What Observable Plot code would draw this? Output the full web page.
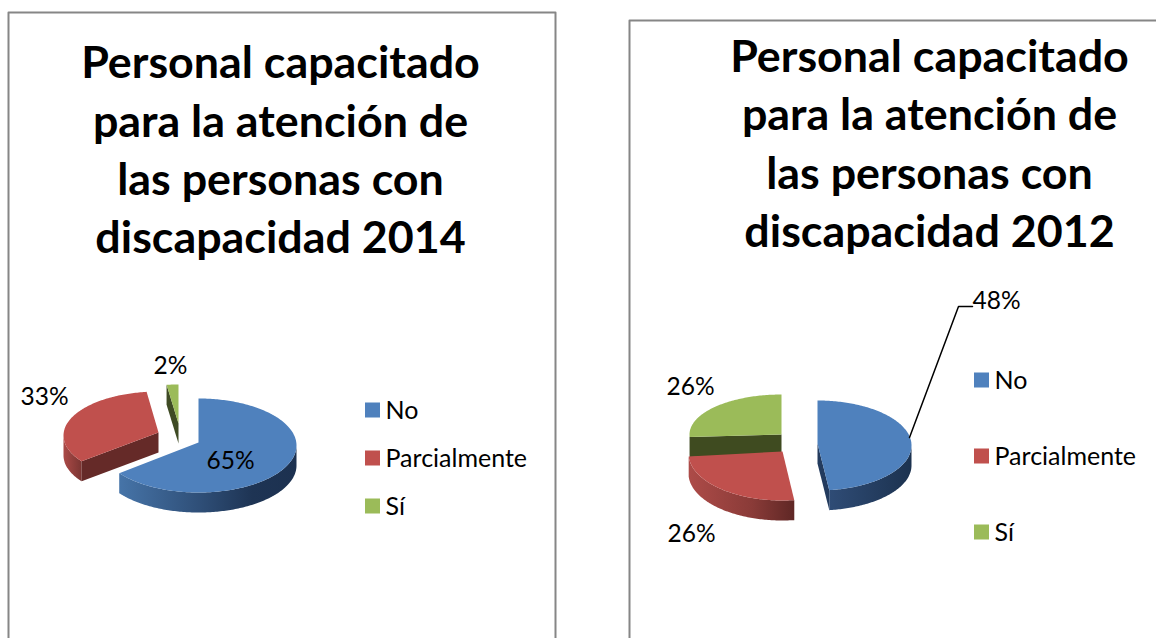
<!DOCTYPE html>
<html>
<head>
<meta charset="utf-8">
<script src="https://cdn.jsdelivr.net/npm/d3@7"></script>
<script src="https://cdn.jsdelivr.net/npm/@observablehq/plot@0.6"></script>
<style>html,body{margin:0;padding:0;background:#fff;overflow:hidden}svg{display:block}</style>
</head>
<body>
<div id="chart"></div>
<script>
const categories = ["No", "Parcialmente", "Sí"];
const values2014 = [65, 33, 2];
const values2012 = [48, 26, 26];
const title2014 = ["Personal capacitado", "para la atención de", "las personas con", "discapacidad 2014"];
const title2012 = ["Personal capacitado", "para la atención de", "las personas con", "discapacidad 2012"];
const colors = ["#4f81bd", "#c0504d", "#9bbb59"];

const FONT = "Lato, 'Open Sans', sans-serif";
const DEPTH = 20;

// Drawing layout, in page units. The angles come from the values arrays.
const layout2014 = {
  slices: [
    {ax: 198, ay: 442, rx: 98, ry: 47, dy: 3, wall: "url(#blueWallA)", face: null},
    {ax: 158, ay: 432, rx: 95, ry: 44, dy: 3, wall: "url(#redWallA)", face: {at: "start", fill: "#652a28"}},
    {ax: 178, ay: 423, rx: 95, ry: 39, dy: 0, wall: "#3f4b24", face: {at: "start", fill: "#3f4b24"}}
  ],
  frame: [[8, 640], [8, 12], [555, 12], [555, 640]],
  titleX: 280, titleY: [63, 122, 180, 238],
  labels: [[230, 461], [44, 397], [170, 366]],
  legendX: 365, legendY: [410, 458, 506]
};
const layout2012 = {
  slices: [
    {ax: 817, ay: 443, rx: 94, ry: 45, dy: 2, wall: "url(#blueWallB)", face: {at: "end", fill: "#233b5e"}},
    {ax: 782, ay: 451, rx: 94, ry: 47, dy: 2, wall: "url(#redWallB)", face: null},
    {ax: 781, ay: 434, rx: 92, ry: 40, dy: 0, wall: "#3f4b24", face: {at: "start", fill: "#3f4b20"}}
  ],
  frame: [[629, 640], [629, 20], [1158, 20]],
  titleX: 929, titleY: [57, 115, 174, 232],
  labels: [[996, 301], [691, 534], [690, 387]],
  legendX: 974, legendY: [380, 456, 532]
};
const leader2012 = [[909, 437], [958, 306], [972, 306]];

const rad = d => d * Math.PI / 180;
function rim(s, deg, drop = 0) {
  return [s.ax + s.rx * Math.sin(rad(deg)), s.ay + s.dy - s.ry * Math.cos(rad(deg)) + drop];
}
function sweep(a, b) {
  const out = d3.range(a, b, 1);
  out.push(b);
  return out;
}
function pieMarks(values, layout) {
  const total = d3.sum(values);
  let angle = 0;
  const under = [], over = [];
  values.forEach((v, i) => {
    const s = layout.slices[i];
    const a0 = angle, a1 = angle + v / total * 360;
    angle = a1;
    // outer wall: the part of the rim that faces the viewer
    const w0 = Math.max(a0, 90), w1 = Math.min(a1, 270);
    if (w1 > w0) {
      const arc = sweep(w0, w1);
      const pts = [...arc.map(d => rim(s, d)), ...arc.slice().reverse().map(d => rim(s, d, DEPTH))];
      under.push(Plot.line(pts, {x: d => d[0], y: d => d[1], fill: s.wall, stroke: "none"}));
    }
    // cut face
    if (s.face) {
      const e = rim(s, s.face.at === "start" ? a0 : a1);
      const pts = [[s.ax, s.ay], e, [e[0], e[1] + DEPTH], [s.ax, s.ay + DEPTH]];
      under.push(Plot.line(pts, {x: d => d[0], y: d => d[1], fill: s.face.fill, stroke: "none"}));
    }
    // top face
    const top = [[s.ax, s.ay], ...sweep(a0, a1).map(d => rim(s, d))];
    over.push(Plot.line(top, {x: d => d[0], y: d => d[1], fill: colors[i], stroke: "none"}));
  });
  const framePts = layout.frame;
  const frame = Plot.line(framePts, {x: d => d[0], y: d => d[1], stroke: "#868686", strokeWidth: 2});
  const titleRows = (layout === layout2014 ? title2014 : title2012).map((t, i) => ({t, y: layout.titleY[i]}));
  const title = Plot.text(titleRows, {
    x: () => layout.titleX, y: "y", text: "t",
    fontFamily: FONT, fontWeight: 700, fontSize: 44.8, fill: "#000"
  });
  const labels = Plot.text(values, {
    x: (d, i) => layout.labels[i][0], y: (d, i) => layout.labels[i][1], text: d => `${d}%`,
    fontFamily: FONT, fontSize: 24.5, fill: "#000"
  });
  const swatches = Plot.rect(categories, {
    x1: () => layout.legendX, x2: () => layout.legendX + 15,
    y1: (d, i) => layout.legendY[i] - 7.5, y2: (d, i) => layout.legendY[i] + 7.5,
    fill: (d, i) => colors[i]
  });
  const legend = Plot.text(categories, {
    x: () => layout.legendX + 20, y: (d, i) => layout.legendY[i], text: d => d, textAnchor: "start",
    fontFamily: FONT, fontSize: 25, fill: "#000"
  });
  return [frame, ...under, ...over, title, labels, swatches, legend];
}

function gradient(id, stops) {
  return `<linearGradient id="${id}" x1="0" x2="1" y1="0" y2="0">` +
    stops.map(([o, c]) => `<stop offset="${o}" stop-color="${c}"/>`).join("") + `</linearGradient>`;
}
const defs = () => {
  const g = d3.create("svg:defs");
  g.html(
    gradient("blueWallA", [[0, "#4674a8"], [0.45, "#2f4f78"], [0.75, "#1e3454"], [1, "#1c3150"]]) +
    gradient("redWallA", [[0, "#ab4a47"], [1, "#7a3532"]]) +
    gradient("blueWallB", [[0, "#2f4c76"], [1, "#1c324f"]]) +
    gradient("redWallB", [[0, "#ad4b48"], [0.6, "#8a3b38"], [1, "#5f2725"]])
  );
  return g.node();
};

const chart = Plot.plot({
  width: 1156,
  height: 638,
  margin: 0,
  x: {domain: [0, 1156], range: [0, 1156], axis: null},
  y: {domain: [0, 638], range: [0, 638], axis: null},
  style: {background: "#fff"},
  marks: [
    defs,
    ...pieMarks(values2014, layout2014),
    ...pieMarks(values2012, layout2012),
    Plot.line(leader2012, {x: d => d[0], y: d => d[1], stroke: "#000", strokeWidth: 1.5})
  ]
});
document.getElementById("chart").append(chart);
</script>
</body>
</html>
